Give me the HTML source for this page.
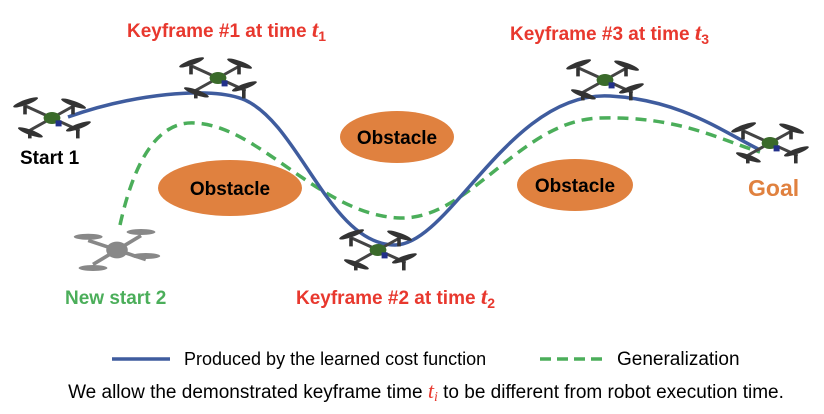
<!DOCTYPE html>
<html><head><meta charset="utf-8"><style>
html,body{margin:0;padding:0;background:#fff;width:824px;height:414px;overflow:hidden}
svg text{font-family:"Liberation Sans",Arial,sans-serif}
</style></head><body>
<svg width="824" height="414" viewBox="0 0 824 414" xmlns="http://www.w3.org/2000/svg">
<defs>
<g id="drone" transform="scale(1.2)">
  <g stroke="#444" stroke-width="2.5" stroke-linecap="round">
    <line x1="-22" y1="-10" x2="22" y2="10"/>
    <line x1="-18" y1="10" x2="18" y2="-10"/>
  </g>
  <g fill="#333">
    <ellipse cx="-22" cy="-13" rx="11" ry="2.2" transform="rotate(-20 -22 -13)"/>
    <ellipse cx="22" cy="7" rx="11" ry="2.2" transform="rotate(-20 22 7)"/>
    <ellipse cx="-18" cy="12" rx="11" ry="2.2" transform="rotate(20 -18 12)"/>
    <ellipse cx="18" cy="-12" rx="11" ry="2.2" transform="rotate(20 18 -12)"/>
    <rect x="-24" y="-10" width="3" height="7"/><rect x="20" y="10" width="3" height="7"/>
    <rect x="-20" y="10" width="3" height="7"/><rect x="16" y="-10" width="3" height="7"/>
  </g>
  <ellipse cx="0" cy="0" rx="7" ry="5" fill="#3a6a2a"/>
  <rect x="3" y="2" width="5" height="5" fill="#22308a"/>
</g>
<g id="gdrone" fill="#888" stroke="#888" transform="scale(1.2)">
  <line x1="-24" y1="-8" x2="24" y2="8" stroke-width="3"/>
  <line x1="-20" y1="12" x2="20" y2="-12" stroke-width="3"/>
  <ellipse cx="0" cy="0" rx="9" ry="7" stroke="none"/>
  <ellipse cx="-24" cy="-11" rx="12" ry="2.5" stroke="none"/>
  <ellipse cx="24" cy="5" rx="12" ry="2.5" stroke="none"/>
  <ellipse cx="-20" cy="15" rx="12" ry="2.5" stroke="none"/>
  <ellipse cx="20" cy="-15" rx="12" ry="2.5" stroke="none"/>
</g>
</defs>
<ellipse cx="230" cy="188" rx="72" ry="28" fill="#E0813F"/>
<ellipse cx="397" cy="137" rx="57" ry="26" fill="#E0813F"/>
<ellipse cx="575" cy="185" rx="58" ry="26" fill="#E0813F"/>
<g font-weight="bold" font-size="19" fill="#000" text-anchor="middle">
<text x="230" y="195">Obstacle</text>
<text x="397" y="144">Obstacle</text>
<text x="575" y="192">Obstacle</text>
</g>
<path d="M120,225 C130,180 150,120 195,123 C260,126 320,215 400,218 C470,220 520,120 600,118 C680,116 720,140 760,152" fill="none" stroke="#4BAE5A" stroke-width="3.5" stroke-dasharray="11,7"/>
<path d="M68,117 C130,95 210,85 245,100 C300,125 330,245 395,245 C450,245 510,90 610,96 C680,100 720,130 760,150" fill="none" stroke="#3F5C9E" stroke-width="3.5"/>
<use href="#drone" x="52" y="118"/>
<use href="#drone" x="218" y="78"/>
<use href="#drone" x="378" y="250"/>
<use href="#drone" x="605" y="80"/>
<use href="#drone" x="770" y="143"/>
<use href="#gdrone" x="117" y="250"/>
<g font-weight="bold" font-size="19">
<text x="127" y="37" fill="#E8382E">Keyframe #1 at time <tspan font-family="Liberation Serif" font-style="italic" font-size="23">t</tspan><tspan font-size="14" dy="4">1</tspan></text>
<text x="510" y="40" fill="#E8382E">Keyframe #3 at time <tspan font-family="Liberation Serif" font-style="italic" font-size="23">t</tspan><tspan font-size="14" dy="4">3</tspan></text>
<text x="296" y="304" fill="#E8382E">Keyframe #2 at time <tspan font-family="Liberation Serif" font-style="italic" font-size="23">t</tspan><tspan font-size="14" dy="4">2</tspan></text>
<text x="20" y="164" fill="#000">Start 1</text>
<text x="65" y="304" fill="#4BAE5A">New start 2</text>
<text x="748" y="196" fill="#E0813F" font-size="23">Goal</text>
</g>
<line x1="112" y1="359" x2="170" y2="359" stroke="#3F5C9E" stroke-width="3.5"/>
<text x="184" y="365" font-size="18">Produced by the learned cost function</text>
<line x1="540" y1="359" x2="602" y2="359" stroke="#4BAE5A" stroke-width="3.5" stroke-dasharray="11,6"/>
<text x="617" y="365" font-size="19">Generalization</text>
<text x="426" y="398" font-size="19" text-anchor="middle">We allow the demonstrated keyframe time <tspan fill="#E8382E" font-family="Liberation Serif" font-style="italic" font-size="22">t</tspan><tspan fill="#E8382E" font-family="Liberation Serif" font-style="italic" font-size="14" dy="3">i</tspan><tspan dy="-3"> to be different from robot execution time.</tspan></text>
</svg>
</body></html>
